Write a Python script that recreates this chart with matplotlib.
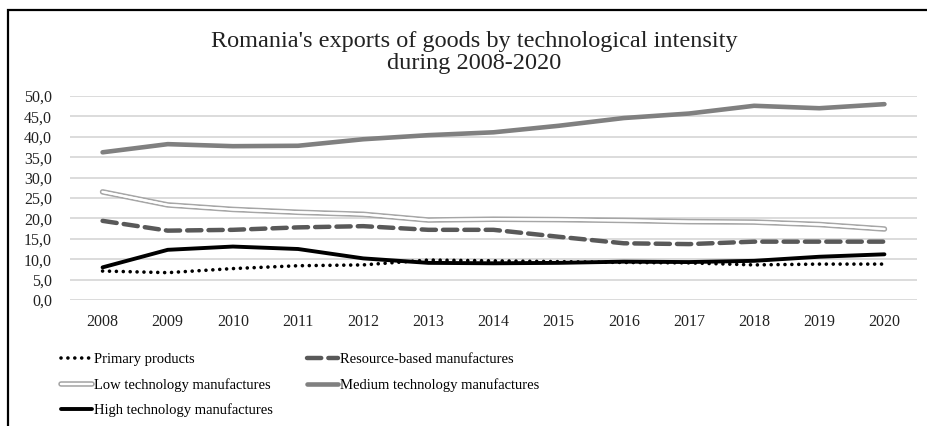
import numpy as np
import matplotlib
matplotlib.use("Agg")
import matplotlib.pyplot as plt
import matplotlib.patheffects as pe
from matplotlib.patches import Rectangle

# data (% of total exports)
years = ["2008", "2009", "2010", "2011", "2012", "2013", "2014",
         "2015", "2016", "2017", "2018", "2019", "2020"]
primary = [7.1, 6.7, 7.7, 8.4, 8.6, 9.8, 9.6, 9.4, 9.2, 9.1, 8.6, 8.8, 8.8]
resource = [19.4, 17.0, 17.2, 17.8, 18.1, 17.2, 17.2, 15.5, 13.9, 13.7, 14.3, 14.3, 14.3]
low_tech = [26.5, 23.3, 22.2, 21.5, 21.0, 19.6, 19.8, 19.7, 19.5, 19.2, 19.1, 18.5, 17.4]
medium_tech = [36.2, 38.2, 37.7, 37.8, 39.4, 40.4, 41.1, 42.7, 44.6, 45.7, 47.6, 47.0, 48.0]
high_tech = [8.0, 12.3, 13.1, 12.5, 10.2, 9.1, 9.0, 9.1, 9.4, 9.3, 9.6, 10.6, 11.2]

plt.rcParams['font.family'] = ['Liberation Serif', 'DejaVu Serif']

W, H = 927, 426
fig = plt.figure(figsize=(W / 100, H / 100), dpi=100)

# outer frame of the chart box (cut off on the right / bottom)
fig.patches.append(Rectangle((8 / W, -0.2), 1.2, (H - 10.5) / H + 0.2,
                             transform=fig.transFigure, fill=False,
                             edgecolor='black', linewidth=1.6))

ax = fig.add_axes([70 / W, 1 - 300 / H, (917 - 70) / W, (300 - 96) / H])
x = np.arange(len(years))

ax.plot(x, medium_tech, color='#808080', lw=3.3, solid_capstyle='round',
        label='Medium technology manufactures', zorder=3)
ax.plot(x, low_tech, color='white', lw=1.6, solid_capstyle='round',
        path_effects=[pe.withStroke(linewidth=4, foreground='#a6a6a6'), pe.Normal()],
        label='Low technology manufactures', zorder=3)
ax.plot(x, resource, color='#595959', lw=3.2, dashes=(3.2, 1.6), dash_capstyle='round',
        label='Resource-based manufactures', zorder=3)
ax.plot(x, high_tech, color='black', lw=2.8, solid_capstyle='round',
        label='High technology manufactures', zorder=4)
ax.plot(x, primary, color='black', lw=2.6, dashes=(0.01, 1.9), dash_capstyle='round',
        label='Primary products', zorder=5)

ax.set_xlim(-0.5, len(years) - 0.5)
ax.set_ylim(0, 50)
ax.set_yticks(np.arange(0, 51, 5))
ax.set_yticklabels([f"{v:.1f}".replace('.', ',') for v in np.arange(0, 51, 5)])
ax.set_xticks(x)
ax.set_xticklabels(years)
ax.tick_params(axis='both', length=0, labelsize=11.5, colors='#222222')
ax.tick_params(axis='y', pad=13)
ax.tick_params(axis='x', pad=10)
ax.grid(axis='y', color='#d9d9d9', lw=1.3)
ax.set_axisbelow(True)
for s in ax.spines.values():
    s.set_visible(False)

fig.text(474 / W, 1 - 41 / H, "Romania's exports of goods by technological intensity",
         ha='center', va='center', fontsize=17.5, color='#222222')
fig.text(474 / W, 1 - 64 / H, "during 2008-2020",
         ha='center', va='center', fontsize=17.5, color='#222222')

# legend, row order: primary / resource, low / medium, high
h, l = ax.get_legend_handles_labels()
order = [4, 1, 3, 2, 0]
fig.legend([h[i] for i in order], [l[i] for i in order], ncol=2,
           loc='upper left', bbox_to_anchor=(48 / W, 1 - 340 / H),
           frameon=False, fontsize=10.5, handlelength=2.1, handletextpad=0.12,
           columnspacing=2.4, labelspacing=0.8)

plt.savefig("out.png", dpi=100)
